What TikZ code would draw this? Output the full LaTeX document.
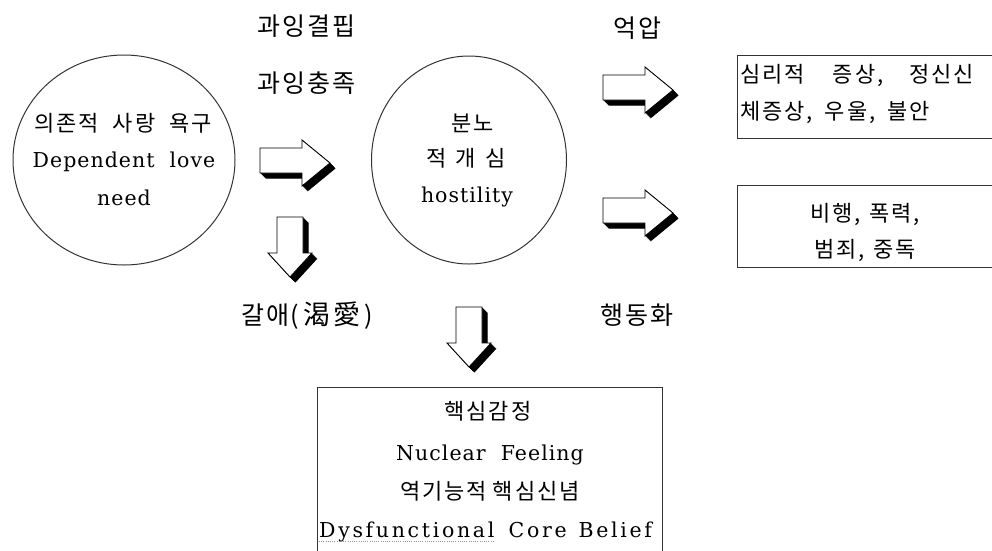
\documentclass[tikz,border=0pt]{standalone}
\usepackage{fontspec}
\usetikzlibrary{shapes.geometric}
\newfontfamily\kr[LetterSpace=9,WordSpace=2]{Noto Sans CJK KR}
\newfontfamily\krl[LetterSpace=8]{Noto Sans CJK KR}
\newfontfamily\en[LetterSpace=5,WordSpace=2]{DejaVu Serif}
\newfontfamily\enw[LetterSpace=13,WordSpace=2]{DejaVu Serif}
\tikzset{
  ln/.style={draw=black!80, line width=1pt},
  krtxt/.style={font=\kr\fontsize{22}{26}\selectfont, inner sep=0pt, anchor=base},
  entxt/.style={font=\en\fontsize{20.5}{24}\selectfont, inner sep=0pt, anchor=base},
  enwide/.style={font=\enw\fontsize{20.5}{24}\selectfont, inner sep=0pt, anchor=base},
  lbl/.style={font=\krl\fontsize{25}{30}\selectfont, inner sep=0pt, anchor=base},
  spell/.style={draw=orange, line width=1pt, dash pattern=on 1pt off 1.2pt},
  rarrow/.pic={
    \foreach \k in {0.5,1,...,5.5}
      \fill[black, shift={(\k,\k)}] (0,8) -- (42,8) -- (42,0) -- (70,23) -- (42,46) -- (42,33) -- (0,33) -- cycle;
    \filldraw[fill=white, draw=black, line width=0.9pt] (0,8) -- (42,8) -- (42,0) -- (70,23) -- (42,46) -- (42,33) -- (0,33) -- cycle;
  },
  darrow/.pic={
    \foreach \k in {0.5,1,...,5.5}
      \fill[black, shift={(\k,\k)}] (9,0) -- (35,0) -- (35,36) -- (44,36) -- (22,60) -- (0,36) -- (9,36) -- cycle;
    \filldraw[fill=white, draw=black, line width=0.9pt] (9,0) -- (35,0) -- (35,36) -- (44,36) -- (22,60) -- (0,36) -- (9,36) -- cycle;
  }
}
\begin{document}
\begin{tikzpicture}[x=1pt,y=-1pt]
\useasboundingbox (0,0) rectangle (992,550);
\clip (0,0) rectangle (992,550);
\fill[white] (0,0) rectangle (992,550);

% shapes
\node[ln, ellipse, minimum width=222, minimum height=210, inner sep=0pt] (need) at (124,160) {};
\node[ln, ellipse, minimum width=195, minimum height=208, inner sep=0pt] (host) at (469,160) {};
\node[ln, anchor=north west, minimum width=270, minimum height=83, inner sep=0pt] (sym) at (737,55) {};
\node[ln, anchor=north west, minimum width=270, minimum height=82, inner sep=0pt] (act) at (737,185) {};
\node[ln, anchor=north west, minimum width=345, minimum height=180, inner sep=0pt] (core) at (317,387) {};

% block arrows
\pic at (260,140) {rarrow};
\pic at (603,67) {rarrow};
\pic at (603,190) {rarrow};
\pic at (268,217) {darrow};
\pic at (447,307) {darrow};

% texts in circles
\node[krtxt] (n1) at (123,131) {의존적 사랑 욕구};
\node[entxt] (n2) at (124,167) {Dependent love};
\node[entxt] (n3) at (124,205) {need};
\node[krtxt] (h1) at (473,131) {분노};
\node[krtxt] (h2) at (466,166) {적\hspace{9pt}개\hspace{9pt}심};
\node[entxt] (h3) at (467,202) {hostility};

% texts in boxes
\node[krtxt, anchor=base west] (s1) at (740,82) {심리적\hspace{28pt}증상,\hspace{26pt}정신신};
\node[krtxt, anchor=base west] (s2) at (740,119) {체증상,\hspace{12pt}우울,\hspace{12pt}불안};
\node[krtxt] (b1) at (865,221) {비행,\hspace{8pt}폭력,};
\node[krtxt] (b2) at (865,257) {범죄,\hspace{8pt}중독};
\node[krtxt] (c1) at (488,419) {핵심감정};
\node[entxt] (c2) at (490,460) {Nuclear Feeling};
\node[krtxt] (c3) at (490,499) {역기능적\hspace{6pt}핵심신념};
\node[enwide, anchor=base west] (c4a) at (319,537) {Dysfunctional};
\node[enwide, anchor=base west] (c4b) at ([xshift=14pt]c4a.base east) {Core\hspace{12pt}Belief};
\draw[spell] ([yshift=-4.5pt]c4a.base west) -- ([yshift=-4.5pt]c4a.base east);

% labels
\node[lbl] (l1) at (306,35) {과잉결핍};
\node[lbl] (l2) at (306,92) {과잉충족};
\node[lbl] (l3) at (637,37) {억압};
\node[lbl] (l4) at (637,324) {행동화};
\node[lbl] (l5) at (307,324) {갈애\hspace{1pt}(\hspace{5pt}{\fontsize{27}{30}\selectfont 渴愛}\hspace{4pt})};
\end{tikzpicture}
\end{document}
